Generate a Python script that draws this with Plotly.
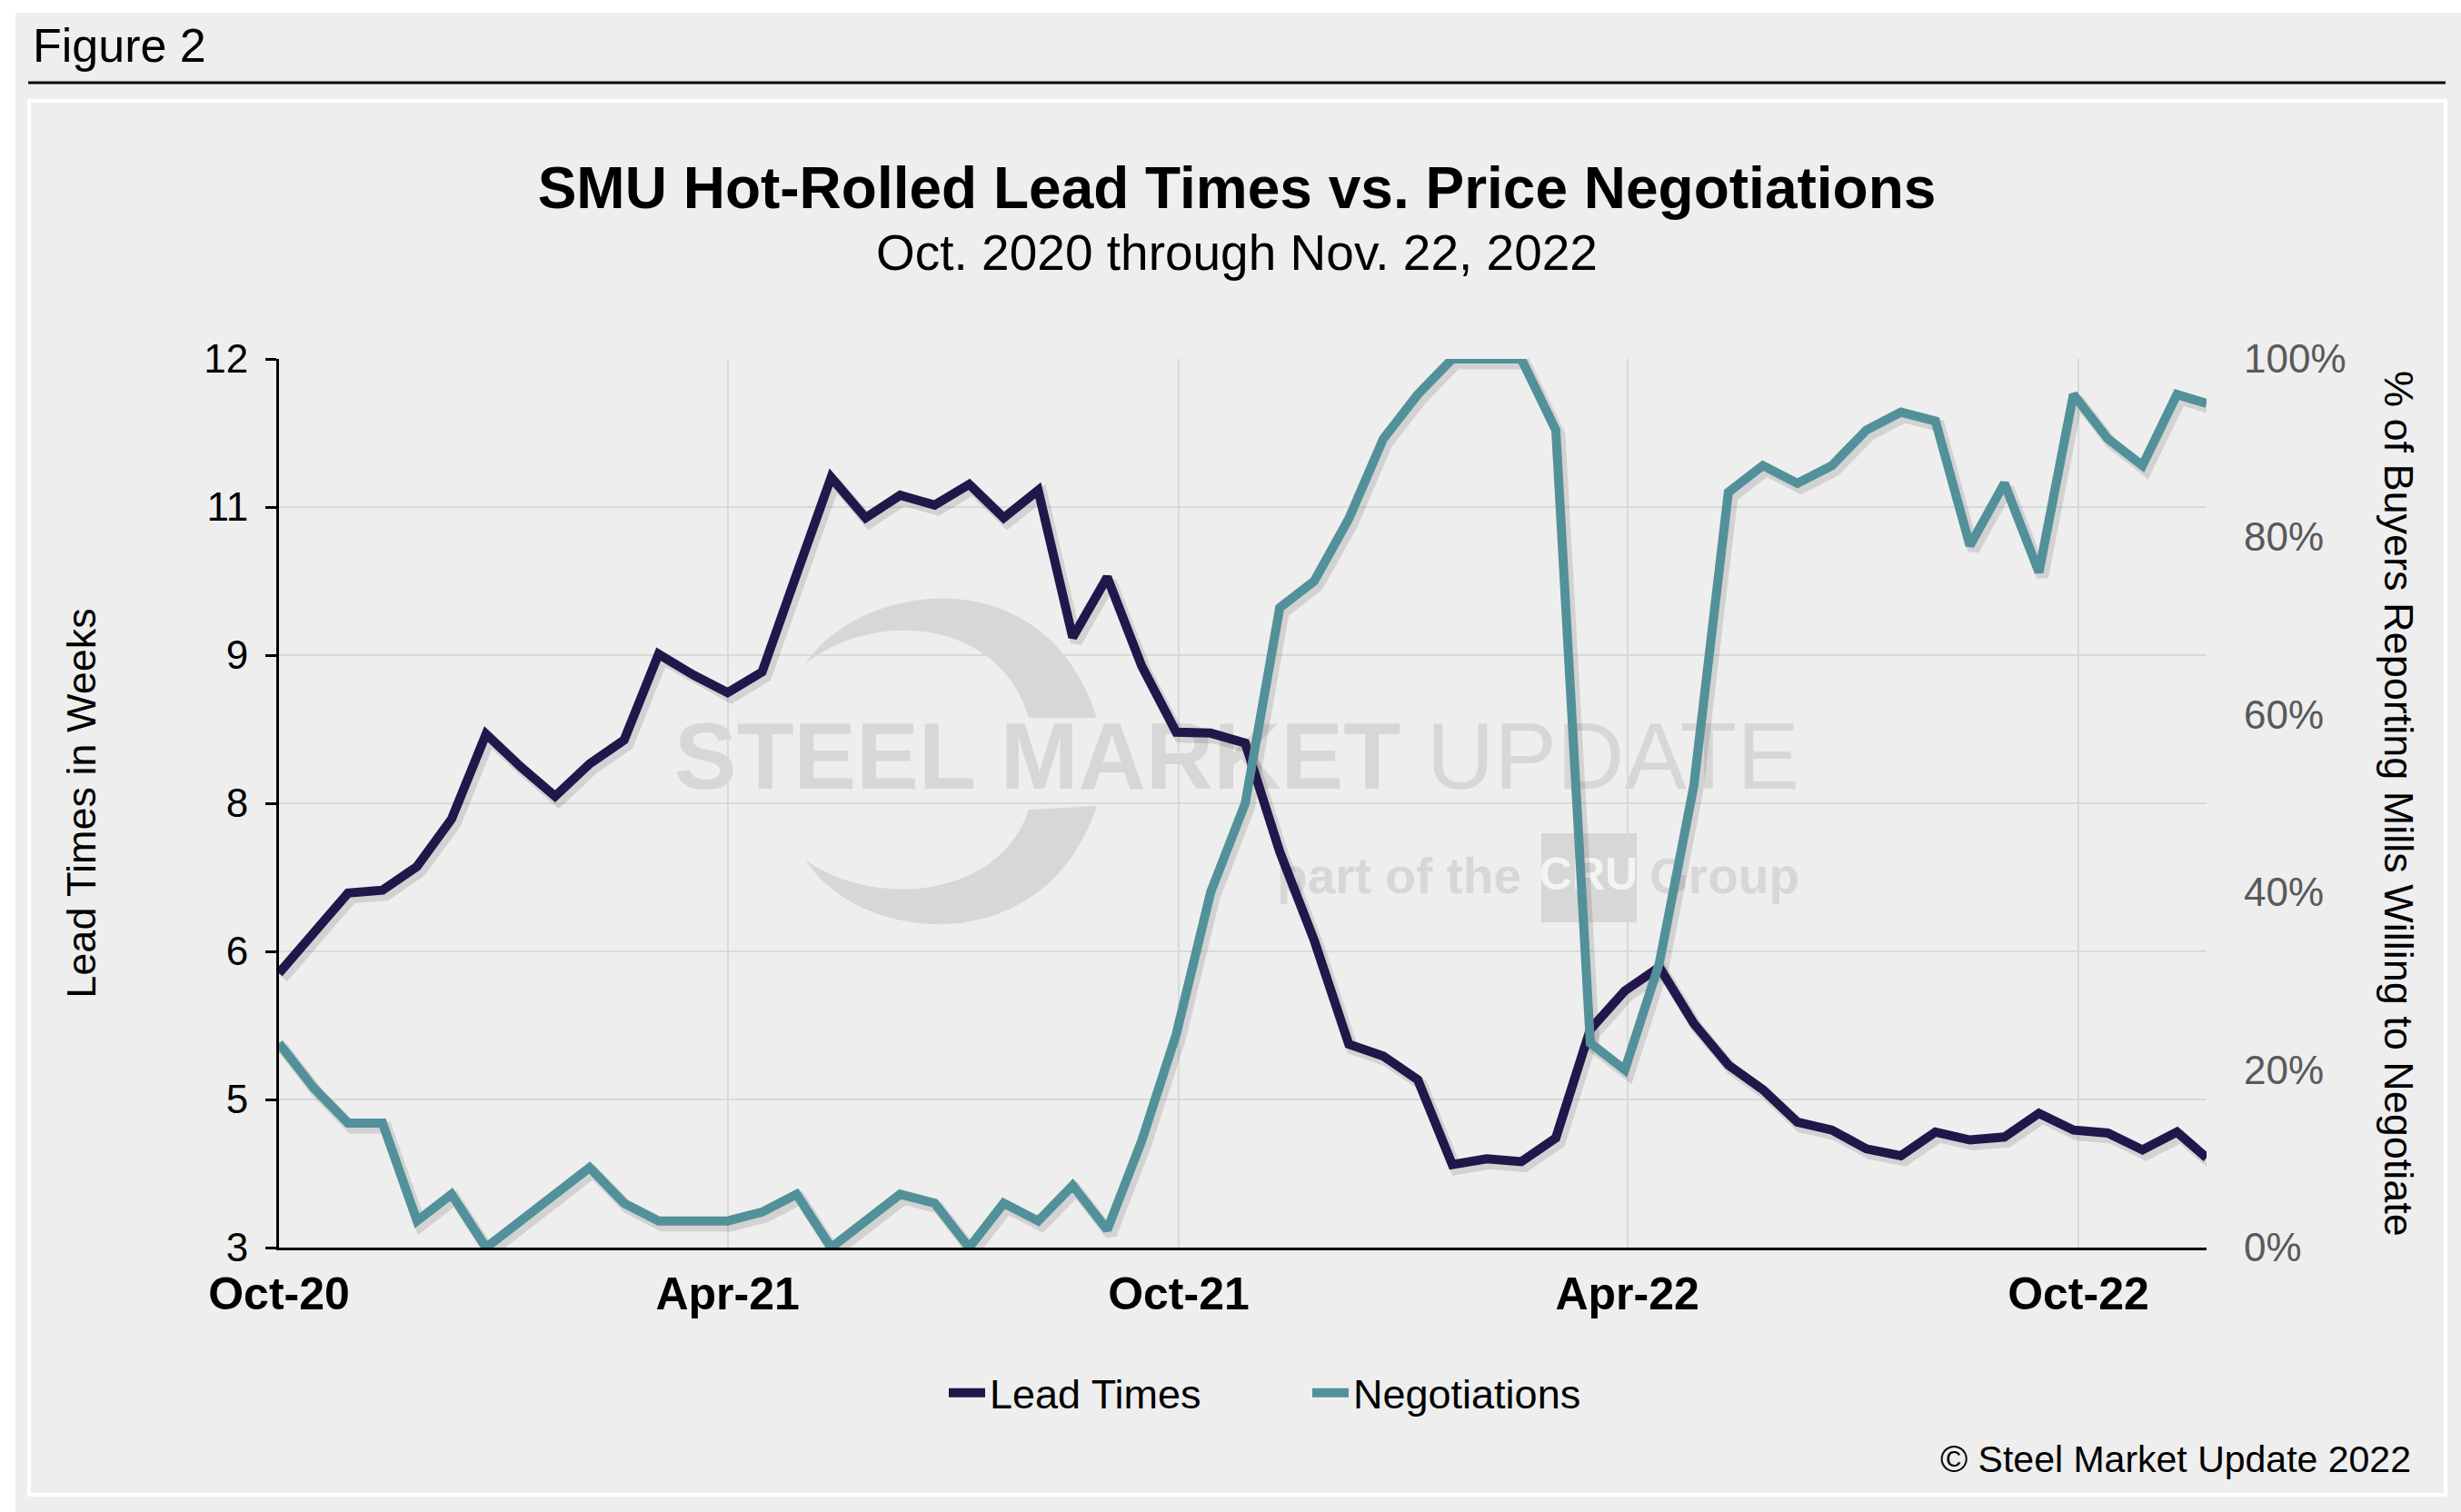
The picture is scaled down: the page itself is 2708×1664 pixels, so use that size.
import pandas as pd
import plotly.graph_objects as go

# ---------------- data ----------------
dates = [
    "2020-10-01", "2020-10-15", "2020-10-29", "2020-11-12", "2020-11-26", "2020-12-10",
    "2020-12-24", "2021-01-07", "2021-01-21", "2021-02-04", "2021-02-18", "2021-03-04",
    "2021-03-18", "2021-04-01", "2021-04-15", "2021-04-29", "2021-05-13", "2021-05-27",
    "2021-06-10", "2021-06-24", "2021-07-08", "2021-07-22", "2021-08-05", "2021-08-19",
    "2021-09-02", "2021-09-16", "2021-09-30", "2021-10-14", "2021-10-28", "2021-11-11",
    "2021-11-25", "2021-12-09", "2021-12-23", "2022-01-06", "2022-01-20", "2022-02-03",
    "2022-02-17", "2022-03-03", "2022-03-17", "2022-03-31", "2022-04-14", "2022-04-28",
    "2022-05-12", "2022-05-26", "2022-06-09", "2022-06-23", "2022-07-07", "2022-07-21",
    "2022-08-04", "2022-08-18", "2022-09-01", "2022-09-15", "2022-09-29", "2022-10-13",
    "2022-10-27", "2022-11-10", "2022-11-22",
]

lead_times = [
    5.78, 6.17, 6.59, 6.62, 6.86, 7.34, 8.20, 7.87, 7.57, 7.90,
    8.14, 9.01, 8.80, 8.62, 8.83, 9.82, 10.80, 10.39, 10.62, 10.52,
    10.73, 10.39, 10.67, 9.18, 9.79, 8.89, 8.22, 8.21, 8.11, 7.01,
    6.11, 5.06, 4.94, 4.70, 3.84, 3.90, 3.87, 4.11, 5.21, 5.60,
    5.84, 5.27, 4.85, 4.60, 4.27, 4.19, 4.00, 3.93, 4.17, 4.09,
    4.12, 4.36, 4.19, 4.16, 3.99, 4.17, 3.91,
]

negotiations = [
    23, 18, 14, 14, 3, 6, 0, 3, 6, 9,
    5, 3, 3, 3, 4, 6, 0, 3, 6, 5,
    0, 5, 3, 7, 2, 12, 24, 40, 50, 72,
    75, 82, 91, 96, 100, 100, 100, 92, 23, 20,
    32, 52, 85, 88, 86, 88, 92, 94, 93, 79,
    86, 76, 96, 91, 88, 96, 95,
]

x_tick_dates = ["2020-10-01", "2021-04-01", "2021-10-01", "2022-04-01", "2022-10-01"]

# ---------------- styling ----------------
W, H = 2708, 1664
L, R, T, B = 307, 2428, 395, 1373          # plot area in pixels
FONT = "Liberation Sans, Arial, Helvetica, sans-serif"
NAVY = "#21174A"
TEAL = "#52919A"
GRID = "#D9D9D9"
BG = "#EEEEEE"
WM = "#D7D7D7"
SHADOW = "rgba(70,70,70,0.17)"
SHX, SHY = 4, 5                              # shadow offset in px


def px(x):
    return (x - L) / (R - L)


def py(y):
    return (B - y) / (B - T)


# shifted ranges for the drop-shadow overlay axes
d0, d1 = pd.Timestamp(dates[0]), pd.Timestamp(dates[-1])
off = (d1 - d0) * (SHX / (R - L))
sh_xrange = [(d0 - off).isoformat(), (d1 - off).isoformat()]
dy_w = 9 * SHY / (B - T)
dy_p = 100 * SHY / (B - T)

fig = go.Figure()

# ---- watermark (bottom layer subplot) ----
fig.add_trace(go.Scatter(
    x=[px(1361)], y=[py(842)], mode="text", text=["<b>STEEL MARKET</b> UPDATE"],
    textposition="middle center", textfont=dict(family=FONT, size=103, color=WM),
    hoverinfo="skip", showlegend=False, xaxis="x", yaxis="y"))
fig.add_trace(go.Scatter(
    x=[px(1674)], y=[py(969)], mode="text", text=["<b>part of the</b>"],
    textposition="middle left", textfont=dict(family=FONT, size=55, color=WM),
    hoverinfo="skip", showlegend=False, xaxis="x", yaxis="y"))
fig.add_trace(go.Scatter(
    x=[px(1815)], y=[py(969)], mode="text", text=["<b>Group</b>"],
    textposition="middle right", textfont=dict(family=FONT, size=55, color=WM),
    hoverinfo="skip", showlegend=False, xaxis="x", yaxis="y"))
fig.add_trace(go.Scatter(
    x=[px(1748)], y=[py(966)], mode="text", text=["<b>CRU</b>"],
    textposition="middle center",
    textfont=dict(family="Liberation Sans Narrow, " + FONT, size=50, color="#F4F4F4"),
    hoverinfo="skip", showlegend=False, xaxis="x", yaxis="y"))

# ---- drop shadows ----
fig.add_trace(go.Scatter(x=dates, y=lead_times, mode="lines",
                         line=dict(color=SHADOW, width=13), hoverinfo="skip",
                         showlegend=False, xaxis="x2", yaxis="y2"))
fig.add_trace(go.Scatter(x=dates, y=negotiations, mode="lines",
                         line=dict(color=SHADOW, width=13), hoverinfo="skip",
                         showlegend=False, xaxis="x2", yaxis="y3"))

# ---- main series ----
fig.add_trace(go.Scatter(x=dates, y=lead_times, mode="lines", name="Lead Times",
                         line=dict(color=NAVY, width=10), xaxis="x3", yaxis="y4"))
fig.add_trace(go.Scatter(x=dates, y=negotiations, mode="lines", name="Negotiations",
                         line=dict(color=TEAL, width=10), xaxis="x3", yaxis="y5"))


def P(points):
    s = ""
    for cmd, pts in points:
        s += cmd + " " + " ".join(f"{px(a):.5f},{py(b):.5f}" for a, b in pts) + " "
    return s + "Z"


swoosh_top = P([("M", [(886, 731)]),
                ("C", [(945, 640), (1150, 610), (1207, 790)]),
                ("L", [(1132, 790)]),
                ("C", [(1100, 680), (960, 670), (886, 731)])])
swoosh_bot = P([("M", [(886, 946)]),
                ("C", [(945, 1040), (1150, 1060), (1207, 887)]),
                ("L", [(1132, 891)]),
                ("C", [(1100, 990), (960, 1000), (886, 946)])])

shapes = [
    dict(type="rect", xref="paper", yref="paper", x0=px(17), x1=px(W), y0=py(14), y1=py(H),
         fillcolor=BG, line=dict(width=0), layer="below"),
    dict(type="rect", xref="paper", yref="paper", x0=px(32), x1=px(2691), y0=py(111), y1=py(1645),
         fillcolor=BG, line=dict(color="white", width=4), layer="below"),
    dict(type="line", xref="paper", yref="paper", x0=px(31), x1=px(2691), y0=py(91), y1=py(91),
         line=dict(color="black", width=3), layer="below"),
    dict(type="rect", xref="paper", yref="paper", x0=px(1696), x1=px(1801), y0=py(917), y1=py(1015),
         fillcolor=WM, line=dict(width=0), layer="below"),
    dict(type="path", xref="paper", yref="paper", path=swoosh_top,
         fillcolor=WM, line=dict(width=0), layer="below"),
    dict(type="path", xref="paper", yref="paper", path=swoosh_bot,
         fillcolor=WM, line=dict(width=0), layer="below"),
]

annotations = [
    dict(text="Figure 2", xref="paper", yref="paper", x=px(34), y=py(50),
         xanchor="left", yanchor="middle", showarrow=False,
         font=dict(family=FONT, size=52, color="black")),
    dict(text="Oct. 2020 through Nov. 22, 2022", xref="paper", yref="paper",
         x=px(1361), y=py(278), xanchor="center", yanchor="middle", showarrow=False,
         font=dict(family=FONT, size=55, color="black")),
    dict(text="© Steel Market Update 2022", xref="paper", yref="paper",
         x=px(2655), y=py(1606), xanchor="right", yanchor="middle", showarrow=False,
         font=dict(family=FONT, size=41, color="black")),
    dict(text="% of Buyers Reporting Mills Willing to Negotiate", xref="paper", yref="paper",
         x=px(2640), y=py(884), xanchor="center", yanchor="middle", textangle=90,
         showarrow=False, font=dict(family=FONT, size=45, color="black")),
]

fig.update_layout(
    width=W, height=H, autosize=False,
    margin=dict(l=L, r=W - R, t=T, b=H - B, pad=0),
    paper_bgcolor="white", plot_bgcolor="rgba(0,0,0,0)",
    font=dict(family=FONT, color="black"),
    title=dict(text="<b>SMU Hot-Rolled Lead Times vs. Price Negotiations</b>",
               x=1361 / W, xref="container", xanchor="center",
               y=1 - 207 / H, yref="container", yanchor="middle",
               font=dict(family=FONT, size=64, color="black")),
    showlegend=True,
    legend=dict(orientation="h", x=px(1039), xanchor="left", y=py(1533), yanchor="middle",
                bgcolor="rgba(0,0,0,0)", font=dict(family=FONT, size=45, color="black"),
                itemwidth=40, traceorder="normal",
                entrywidth=345, entrywidthmode="pixels"),
    shapes=shapes,
    annotations=annotations,
    # watermark axes
    xaxis=dict(domain=[0, 1], range=[0, 1], visible=False, fixedrange=True),
    yaxis=dict(domain=[0, 1], range=[0, 1], visible=False, fixedrange=True),
    # shadow axes
    xaxis2=dict(overlaying="x", anchor="y2", type="date", range=sh_xrange, visible=False),
    yaxis2=dict(overlaying="y", anchor="x2", range=[3 + dy_w, 12 + dy_w], visible=False),
    yaxis3=dict(overlaying="y", anchor="x2", side="right", range=[dy_p, 100 + dy_p], visible=False),
    # main axes
    xaxis3=dict(overlaying="x", anchor="y4", type="date", range=[dates[0], dates[-1]],
                tickmode="array", tickvals=x_tick_dates, tickformat="%b-%y",
                showgrid=True, gridcolor=GRID, gridwidth=2, zeroline=False,
                showline=True, linecolor="black", linewidth=3, ticks="",
                tickfont=dict(family=FONT, size=50, color="black", weight="bold"),
                ticklabelstandoff=5),
    yaxis4=dict(overlaying="y", anchor="x3", side="left", range=[3, 12],
                tick0=3, dtick=1.5, tickformat=".0f",
                showgrid=True, gridcolor=GRID, gridwidth=2, zeroline=False,
                showline=True, linecolor="black", linewidth=3,
                ticks="outside", ticklen=12, tickwidth=3, tickcolor="black",
                tickfont=dict(family=FONT, size=44, color="black"),
                ticklabelstandoff=10,
                title=dict(text="Lead Times in Weeks", standoff=105,
                           font=dict(family=FONT, size=45, color="black"))),
    yaxis5=dict(overlaying="y", anchor="x3", side="right", range=[0, 100],
                tick0=0, dtick=20, ticksuffix="%",
                showgrid=False, zeroline=False, showline=False, ticks="",
                tickfont=dict(family=FONT, size=44, color="#595959"),
                ticklabelstandoff=40),
)

fig.write_html("out.html", config={"displayModeBar": False},
               post_script="document.body.style.margin='0px';")
